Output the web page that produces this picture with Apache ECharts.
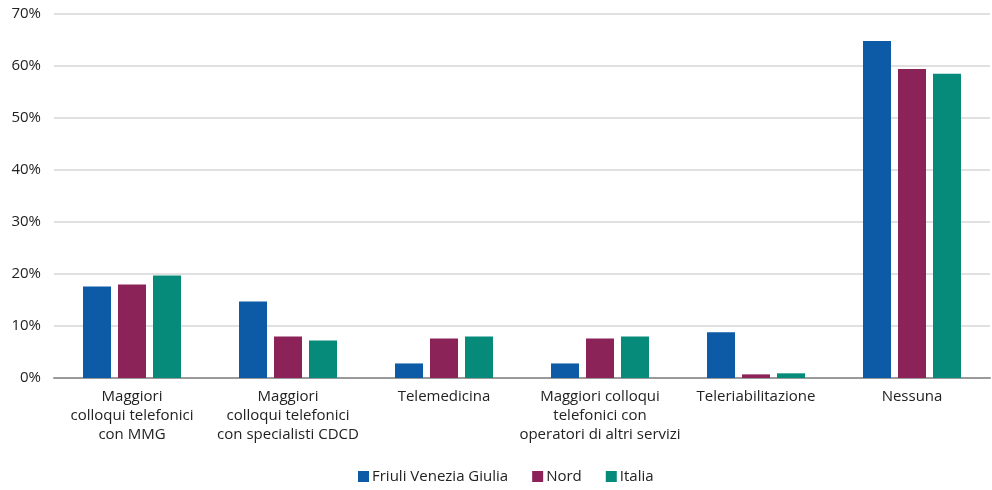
<!DOCTYPE html>
<html>
<head>
<meta charset="utf-8">
<script src="https://cdn.jsdelivr.net/npm/echarts@6/dist/echarts.min.js"></script>
<style>
  html, body { margin: 0; padding: 0; background: #fff; }
  #chart { width: 992px; height: 490px; }
</style>
</head>
<body>
<div id="chart"></div>
<script>
// Categories (axis labels, wrapped over several lines)
const categories = [
  'Maggiori\ncolloqui telefonici\ncon MMG',
  'Maggiori\ncolloqui telefonici\ncon specialisti CDCD',
  'Telemedicina',
  'Maggiori colloqui\ntelefonici con\noperatori di altri servizi',
  'Teleriabilitazione',
  'Nessuna'
];

// Percent values per area
const friuliVG = [17.6, 14.7, 2.8, 2.8, 8.8, 64.8];
const nord     = [18.0, 8.0, 7.6, 7.6, 0.7, 59.4];
const italia   = [19.7, 7.2, 8.0, 8.0, 0.9, 58.5];

const seriesNames = ['Friuli Venezia Giulia', 'Nord', 'Italia'];
const seriesColors = ['#0d5aa7', '#8b2359', '#068b7b'];
const seriesData = [friuliVG, nord, italia];

const FONT = '"Open Sans", "Noto Sans", sans-serif';

const chart = echarts.init(document.getElementById('chart'), null, { renderer: 'canvas' });

chart.setOption({
  animation: false,
  backgroundColor: '#fff',
  textStyle: { fontFamily: FONT },
  grid: { left: 54, right: 2, top: 14, bottom: 112, containLabel: false },
  legend: {
    bottom: 1,
    left: 353,
    itemWidth: 11,
    itemHeight: 11,
    itemGap: 24,
    icon: 'rect',
    textStyle: { fontFamily: FONT, fontSize: 15, color: '#222', padding: [0, 0, 0, -2] },
    data: seriesNames
  },
  xAxis: {
    type: 'category',
    data: categories,
    axisTick: { show: false },
    axisLine: { show: true, lineStyle: { color: '#9a9a9a', width: 2 } },
    axisLabel: {
      interval: 0,
      margin: 9,
      fontFamily: FONT,
      fontSize: 15,
      lineHeight: 19,
      color: '#222'
    }
  },
  yAxis: {
    type: 'value',
    min: 0,
    max: 70,
    interval: 10,
    axisLine: { show: false },
    axisTick: { show: false },
    splitLine: { lineStyle: { color: '#d6d6d6', width: 1.5 } },
    axisLabel: {
      formatter: '{value}%',
      fontFamily: FONT,
      fontSize: 15,
      color: '#222',
      margin: 13
    }
  },
  series: seriesNames.map((name, i) => ({
    name: name,
    type: 'bar',
    data: seriesData[i],
    barWidth: 28,
    barGap: '25%',
    itemStyle: { color: seriesColors[i] }
  }))
});
</script>
</body>
</html>
